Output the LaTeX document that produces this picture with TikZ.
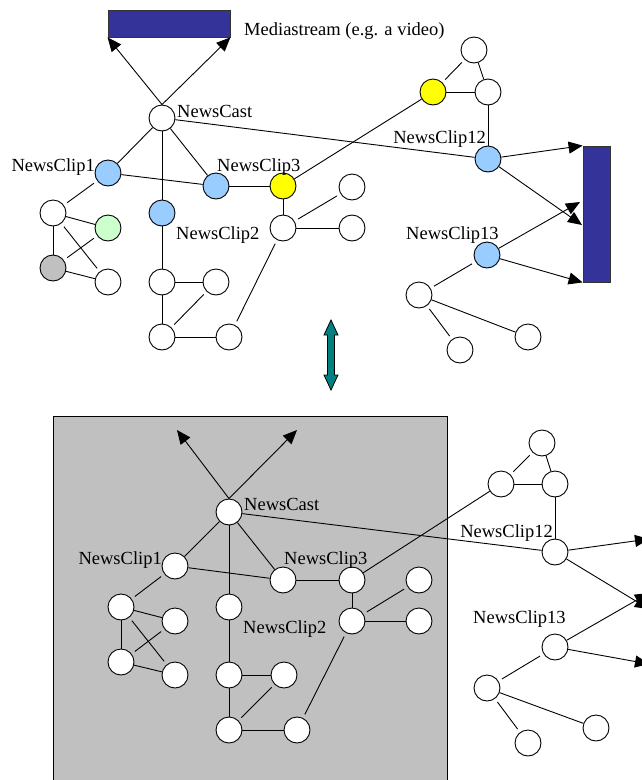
\documentclass[tikz,border=0pt]{standalone}
\usepackage{fontspec}
\setmainfont{Liberation Serif}
\usetikzlibrary{arrows,arrows.meta}

\definecolor{clipblue}{HTML}{99CCFF}
\definecolor{markyellow}{HTML}{FFFF00}
\definecolor{markgreen}{HTML}{CCFFCC}
\definecolor{markgrey}{HTML}{C0C0C0}
\definecolor{mediablue}{HTML}{333399}
\definecolor{swapteal}{HTML}{008080}

\begin{document}
\begin{tikzpicture}[x=1pt,y=-1pt,
obj/.style={circle,draw,line width=0.9pt,fill=white,minimum size=26pt,inner sep=0pt},
clipobj/.style={obj,fill=clipblue},
lbl/.style={font=\fontsize{18.5}{20}\selectfont,inner sep=0pt},
media/.style={draw=black!80,line width=0.8pt,fill=mediablue,inner sep=0pt},
link/.style={line width=0.9pt},
gap/.style={link,shorten <=4pt,shorten >=4pt},
arrow/.style={-{Triangle[length=14pt,width=12pt]},line width=0.9pt} ]

\useasboundingbox (0,0) rectangle (642,780);

% grey panel of the lower copy
\draw[fill=markgrey,line width=0.8pt] (53,416) rectangle (447,790);

% upper graph
\node[media,minimum width=122pt,minimum height=27pt](tmedia) at (169,23.5) {};
\node[media,minimum width=27pt,minimum height=136pt](tstream) at (596.5,214) {};
\node[lbl,anchor=base west](lmedia) at (244,35) {Mediastream (e.g. a video)};

\node[obj](tcast) at (162,118) {};
\node[clipobj](tclip1) at (108,173) {};
\node[clipobj](tclip2) at (162,213) {};
\node[clipobj](tclip3) at (216,186) {};
\node[obj,fill=markyellow](tyel) at (283,186) {};
\node[obj,fill=markyellow](tyelB) at (433,92) {};
\node[obj](ttop) at (474,50) {};
\node[obj](tright) at (488,92) {};
\node[clipobj](tclip12) at (488,159) {};
\node[clipobj](tclip13) at (487,255) {};
\node[obj](ta) at (53,213) {};
\node[obj,fill=markgreen](tgreen) at (108,228) {};
\node[obj,fill=markgrey](tgrey) at (53,268) {};
\node[obj](tb) at (108,282) {};
\node[obj](tc) at (162,282) {};
\node[obj](td) at (216,282) {};
\node[obj](te) at (162,337) {};
\node[obj](tf) at (229,337) {};
\node[obj](tg) at (283,228) {};
\node[obj](th) at (352,187) {};
\node[obj](ti) at (352,228) {};
\node[obj](tj) at (419,295) {};
\node[obj](tk) at (460,350) {};
\node[obj](tl) at (528,337) {};

\node[lbl,anchor=base west](lcast) at (177,117) {NewsCast};
\node[lbl,anchor=base east](lclip1) at (95,171) {NewsClip1};
\node[lbl,anchor=base west](lclip3) at (217,171) {NewsClip3};
\node[lbl,anchor=base west](lclip2) at (176,239) {NewsClip2};
\node[lbl,anchor=base east](lclip12) at (486,143) {NewsClip12};
\node[lbl,anchor=base west](lclip13) at (406,239) {NewsClip13};

\coordinate (ts1) at (582,225);
\coordinate (ts2) at (580,202);

\draw[arrow] (tcast.north) -- (tmedia.south west);
\draw[arrow] (tcast.north) -- (tmedia.south east);
\draw[link] (tcast) -- (tclip1);
\draw[link] (tcast) -- (tclip2);
\draw[link] (tcast) -- (tclip3);
\draw[link] (tcast) -- (tclip12);
\draw[link] (tclip1) -- (tclip3);
\draw[link] (tclip3) -- (tyel);
\draw[link] (tyel) -- (tyelB);
\draw[link] (tyel) -- (tg);
\draw[gap] (ttop) -- (tyelB);
\draw[link] (ttop) -- (tright);
\draw[link] (tyelB) -- (tright);
\draw[link] (tright) -- (tclip12);
\draw[arrow] (tclip12) -- (tstream.north west);
\draw[arrow] (tclip12) -- (ts1);
\draw[arrow] (tclip13) -- (ts2);
\draw[arrow] (tclip13) -- (tstream.south west);
\draw[gap] (tclip13) -- (tj);
\draw[gap] (tj) -- (tk);
\draw[link] (tj) -- (tl);
\draw[gap] (tclip1) -- (ta);
\draw[link] (ta) -- (tgreen);
\draw[gap] (ta) -- (tb);
\draw[link] (ta) -- (tgrey);
\draw[gap] (tgrey) -- (tgreen);
\draw[link] (tgrey) -- (tb);
\draw[link] (tclip2) -- (tc);
\draw[link] (tc) -- (td);
\draw[link] (tc) -- (te);
\draw[gap] (te) -- (td);
\draw[link] (te) -- (tf);
\draw[gap] (tf) -- (tg);
\draw[gap] (tg) -- (th);
\draw[link] (tg) -- (ti);

% swap arrow
\filldraw[fill=swapteal,line width=0.8pt] (331,320) -- (338,335) -- (334.5,335) -- (334.5,375)
  -- (338,375) -- (331,390) -- (324,375) -- (327.5,375) -- (327.5,335) -- (324,335) -- cycle;

% lower graph
\node[obj](bcast) at (229,512) {};
\node[obj](bclip1) at (175,566) {};
\node[obj](bclip2) at (229,607) {};
\node[obj](bclip3) at (283,580) {};
\node[obj](byel) at (352,580) {};
\node[obj](byelB) at (501,484) {};
\node[obj](btop) at (542,443) {};
\node[obj](bright) at (555,484) {};
\node[obj](bclip12) at (555,552) {};
\node[obj](bclip13) at (555,647) {};
\node[obj](ba) at (121,607) {};
\node[obj](bgreen) at (175,621) {};
\node[obj](bgrey) at (121,662) {};
\node[obj](bb) at (175,675) {};
\node[obj](bc) at (229,675) {};
\node[obj](bd) at (284,675) {};
\node[obj](be) at (229,730) {};
\node[obj](bf) at (297,730) {};
\node[obj](bg) at (352,621) {};
\node[obj](bh) at (419,580) {};
\node[obj](bi) at (419,621) {};
\node[obj](bj) at (487,688) {};
\node[obj](bk) at (528,743) {};
\node[obj](bl) at (596,728) {};

\node[lbl,anchor=base west](mcast) at (244,510) {NewsCast};
\node[lbl,anchor=base east](mclip1) at (162,564) {NewsClip1};
\node[lbl,anchor=base west](mclip3) at (284,564) {NewsClip3};
\node[lbl,anchor=base west](mclip2) at (243,633) {NewsClip2};
\node[lbl,anchor=base east](mclip12) at (553,537) {NewsClip12};
\node[lbl,anchor=base west](mclip13) at (473,623) {NewsClip13};

\coordinate (bup1) at (177,430);
\coordinate (bup2) at (297,430);
\coordinate (bs1) at (649,539);
\coordinate (bs2) at (649,609);
\coordinate (bs3) at (649,593);
\coordinate (bs4) at (649,664);

\draw[arrow] (bcast.north) -- (bup1);
\draw[arrow] (bcast.north) -- (bup2);
\draw[link] (bcast) -- (bclip1);
\draw[link] (bcast) -- (bclip2);
\draw[link] (bcast) -- (bclip3);
\draw[link] (bcast) -- (bclip12);
\draw[link] (bclip1) -- (bclip3);
\draw[link] (bclip3) -- (byel);
\draw[link] (byel) -- (byelB);
\draw[link] (byel) -- (bg);
\draw[gap] (btop) -- (byelB);
\draw[link] (btop) -- (bright);
\draw[link] (byelB) -- (bright);
\draw[link] (bright) -- (bclip12);
\draw[arrow] (bclip12) -- (bs1);
\draw[arrow] (bclip12) -- (bs2);
\draw[arrow] (bclip13) -- (bs3);
\draw[arrow] (bclip13) -- (bs4);
\draw[gap] (bclip13) -- (bj);
\draw[gap] (bj) -- (bk);
\draw[link] (bj) -- (bl);
\draw[gap] (bclip1) -- (ba);
\draw[link] (ba) -- (bgreen);
\draw[gap] (ba) -- (bb);
\draw[link] (ba) -- (bgrey);
\draw[gap] (bgrey) -- (bgreen);
\draw[link] (bgrey) -- (bb);
\draw[link] (bclip2) -- (bc);
\draw[link] (bc) -- (bd);
\draw[link] (bc) -- (be);
\draw[gap] (be) -- (bd);
\draw[link] (be) -- (bf);
\draw[gap] (bf) -- (bg);
\draw[gap] (bg) -- (bh);
\draw[link] (bg) -- (bi);

\end{tikzpicture}
\end{document}
